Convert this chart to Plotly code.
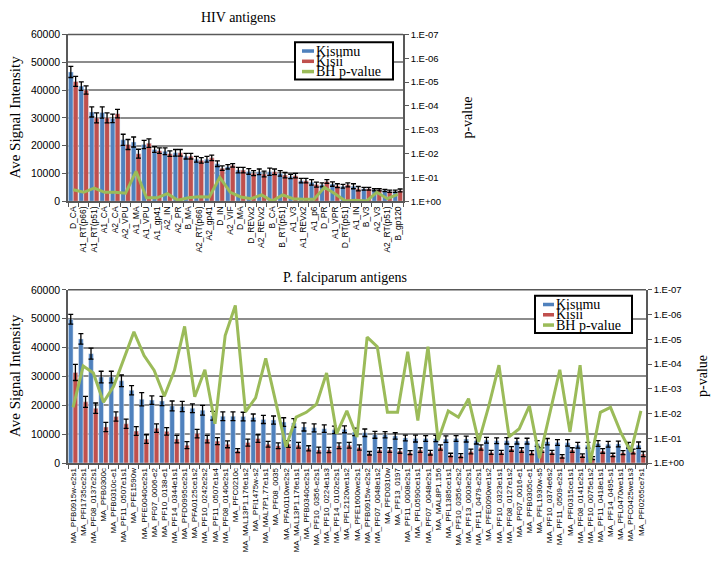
import plotly.graph_objects as go

# ---------------- HIV antigens (top) ----------------
hiv_antigens = ["D_CA", "A1_RT(p66)", "A1_RT(p51)", "A1_CA", "A2_CA", "A2_VPU", "A1_MA", "A1_VPU",
                "A1_gp41", "A2_IN", "A2_PR", "B_MA", "A2_RT(p66)", "A2_gp41", "D_IN", "A2_VIF",
                "D_MA", "D_REVx2", "A2_REVx2", "B_CA", "B_RT(p51)", "A1_V3", "A1_REVx2", "A1_p6",
                "D_PR", "A1_VPR", "D_RT(p51)", "A1_IN", "B_V3", "A2_V3", "A2_RT(p51)", "B_gp120"]
hiv_kisumu = [46500, 41400, 32100, 31900, 29800, 22100, 21300, 20400, 18600, 18000, 17400, 16200,
              15100, 15100, 13500, 12400, 11200, 10700, 10600, 10600, 10000, 8900, 7400, 6800,
              5900, 6200, 5400, 5400, 4500, 4100, 3900, 3600]
hiv_kisii = [43100, 40000, 30000, 30000, 31500, 20400, 17100, 20900, 18200, 17100, 17400, 16200,
             14700, 15600, 11900, 12900, 11200, 10100, 9800, 10600, 9400, 9200, 7400, 6000,
             7100, 5600, 5900, 4500, 4500, 4100, 3600, 3900]
hiv_kisumu_err = [2000, 1500, 1800, 2000, 1500, 2000, 1800, 1500, 1000, 1200, 1200, 1000, 1000, 1000,
                  1000, 800, 1000, 1000, 1000, 1300, 1000, 800, 800, 1000, 700, 800, 700, 900, 500,
                  400, 400, 400]
hiv_kisii_err = [1800, 1500, 1800, 1800, 1500, 1800, 1600, 1500, 1000, 1000, 1200, 1000, 1000, 1000,
                 800, 600, 1000, 900, 1000, 1000, 1000, 800, 800, 900, 700, 700, 700, 800, 500, 400,
                 400, 500]
hiv_pvalue = [0.33, 0.42, 0.28, 0.42, 0.42, 0.46, 0.056, 0.72, 0.72, 0.48, 0.91, 0.71, 0.65, 0.66,
              0.10, 0.42, 0.66, 0.78, 0.54, 0.98, 0.54, 0.78, 0.83, 0.83, 0.26, 0.48, 0.98, 0.91,
              0.98, 0.42, 0.78, 0.51]

# ---------------- P. falciparum antigens (bottom) ----------------
pf_antigens = ["MA_PFB0915w-e2s1", "MA_PFI1735ce2s1", "MA_PF08_0137e2s1", "MA_PFB0300c",
               "MA_PFB0310c-e1", "MA_PF11_0507e1s1", "MA_PFE1590w", "MA_PFE0040ce2s1",
               "MA_PF07_0006-e2", "MA_PF10_0138-e1", "MA_PF14_0344e1s1", "MA_PFD0995ce2s1",
               "MA_PFA0125ce1s2", "MA_PF10_0242e2s2", "MA_PF11_0507e1s4", "MA_PF08_0140e2s1",
               "MA_PFC0210c", "MA_MAL13P1.176e1s2", "MA_PFI1475w-s2", "MA_MAL7P1.77e1s1",
               "MA_PF08_0035", "MA_PFA0110we2s2", "MA_MAL13P1.176e1s1", "MA_PFB0340ce2s1",
               "MA_PF10_0356-e2s1", "MA_PF10_0224e1s3", "MA_PF14_0102e2s1", "MA_PFL2120we1s2",
               "MA_PFE1600we2s1", "MA_PFB0915w-e2s2", "MA_PF07_0048e1s2", "MA_PFD0310w",
               "MA_PF13_0197", "MA_PF11_0008e2s1", "MA_PFL0590ce1s1", "MA_PF07_0048e2s1",
               "MA_MAL8P1.156", "MA_PFL1385ce1s1", "MA_PF10_0356-e2s2", "MA_PF13_0003e2s1",
               "MA_PF11_0479-e2s1", "MA_PFE0090we1s2", "MA_PF10_0323e1s1", "MA_PF08_0127e1s2",
               "MA_PF07_0016-e1", "MA_PFB0305c-e1", "MA_PFL1930w-s5", "MA_PF10_0374e6s2",
               "MA_PF11_0509-e2s1", "MA_PFI0315ce1s1", "MA_PF08_0141e2s1", "MA_PF10_0075e1s2",
               "MA_PF11_0418e1s1", "MA_PF14_0495-s1", "MA_PFL0470we1s1", "MA_PFC0425we1s3",
               "MA_PFI0265ce7s1"]
pf_kisumu = [49800, 43000, 37900, 29800, 29800, 28500, 25200, 22100, 21800, 21500, 19800, 19600,
             19000, 18300, 16400, 16200, 16200, 16100, 15800, 15100, 14900, 14200, 13900, 12500,
             12200, 11900, 11500, 11700, 10800, 10500, 9800, 9800, 9400, 8700, 8500, 8500, 8500,
             8300, 8500, 8300, 7700, 7900, 7700, 7700, 7600, 7600, 6800, 7400, 7100, 7000, 6200,
             6200, 6800, 6500, 6600, 6200, 6200]
pf_kisii = [31400, 21200, 19000, 12500, 16100, 13600, 11100, 8300, 12100, 11000, 8300, 6200,
            10200, 8300, 7600, 6500, 4300, 7100, 8500, 6500, 6000, 6600, 6200, 5100, 4500, 4500,
            6000, 6200, 5400, 3400, 4500, 4500, 4200, 3600, 4500, 3600, 5400, 2800, 2600, 4000,
            5400, 3700, 3700, 4900, 4500, 3600, 4500, 3700, 2300, 4500, 2600, 1700, 4200, 2800,
            3600, 4000, 3100]
pf_kisumu_err = [1700, 1800, 1900, 2000, 2000, 2000, 1600, 2300, 1500, 1600, 1700, 1800, 1500,
                 1700, 1500, 1500, 1500, 1500, 1200, 1400, 1400, 1500, 1500, 1400, 1400, 1300,
                 1300, 1200, 1300, 1300, 1200, 1100, 1100, 1000, 1200, 1000, 1100, 1100, 1000,
                 1000, 1100, 1000, 1000, 1100, 1000, 1000, 1000, 1100, 1000, 1100, 1000, 1000,
                 1000, 1000, 1000, 1000, 1100]
pf_kisii_err = [2800, 1900, 1800, 1600, 1600, 1600, 1500, 1500, 1500, 1300, 1300, 1200, 1500, 1300,
                1200, 1200, 700, 1200, 1300, 1000, 1000, 1200, 1000, 900, 1000, 900, 1000, 1000,
                900, 600, 800, 800, 800, 700, 800, 800, 900, 600, 700, 800, 900, 700, 700, 800,
                800, 700, 800, 700, 600, 800, 600, 500, 800, 600, 700, 800, 900]
pf_pvalue = [5.6e-3, 1.2e-4, 2.3e-4, 3.5e-3, 7.9e-4, 6.3e-5, 5.0e-6, 4.5e-5, 1.8e-4, 2.0e-3,
             1.8e-4, 3.0e-6, 2.1e-3, 1.7e-4, 2.6e-2, 7.1e-6, 4.3e-7, 8.5e-3, 2.3e-3, 5.9e-5,
             4.2e-3, 2.2e-1, 1.4e-2, 8.9e-3, 4.2e-3, 2.3e-4, 6.5e-2, 7.8e-3, 8.9e-2, 8.1e-6,
             2.0e-5, 8.9e-3, 8.9e-3, 3.2e-5, 1.9e-2, 2.0e-5, 1.2e-1, 7.8e-3, 1.4e-2, 2.5e-3,
             1.4e-1, 4.9e-3, 1.1e-4, 8.7e-2, 4.1e-2, 4.9e-3, 6.3e-1, 1.0e-2, 1.7e-4, 5.6e-2,
             1.1e-4, 1.0, 8.9e-3, 5.6e-3, 5.6e-2, 3.5e-1, 7.8e-3]

left_ticks = [0, 10000, 20000, 30000, 40000, 50000, 60000]
left_tick_text = ["0", "10000", "20000", "30000", "40000", "50000", "60000"]
p_ticks = [1e-7, 1e-6, 1e-5, 1e-4, 1e-3, 1e-2, 1e-1, 1]
p_tick_text = ["1.E-07", "1.E-06", "1.E-05", "1.E-04", "1.E-03", "1.E-02", "1.E-01", "1.E+00"]
series_names = ["Kisumu", "Kisii", "BH p-value"]

BLUE = "#4F81BD"
RED = "#C0504D"
GREEN = "#9BBB59"
SANS = "Liberation Sans"
SERIF = "Liberation Serif"
W, H = 714, 564


def px_x(x):
    return x / W


def px_y(y):
    return 1 - y / H


fig = go.Figure()

err_style = dict(type="data", color="black", thickness=1.3, width=2.5)

# top traces
fig.add_trace(go.Bar(x=hiv_antigens, y=hiv_kisumu, name=series_names[0], marker_color=BLUE,
                     error_y=dict(array=hiv_kisumu_err, **err_style), xaxis="x", yaxis="y"))
fig.add_trace(go.Bar(x=hiv_antigens, y=hiv_kisii, name=series_names[1], marker_color=RED,
                     error_y=dict(array=hiv_kisii_err, **err_style), xaxis="x", yaxis="y"))
fig.add_trace(go.Scatter(x=hiv_antigens, y=hiv_pvalue, name=series_names[2], mode="lines",
                         line=dict(color=GREEN, width=3), xaxis="x", yaxis="y2"))

# bottom traces
fig.add_trace(go.Bar(x=pf_antigens, y=pf_kisumu, name=series_names[0], marker_color=BLUE,
                     error_y=dict(array=pf_kisumu_err, **err_style), xaxis="x2", yaxis="y3"))
fig.add_trace(go.Bar(x=pf_antigens, y=pf_kisii, name=series_names[1], marker_color=RED,
                     error_y=dict(array=pf_kisii_err, **err_style), xaxis="x2", yaxis="y3"))
fig.add_trace(go.Scatter(x=pf_antigens, y=pf_pvalue, name=series_names[2], mode="lines",
                         line=dict(color=GREEN, width=3), xaxis="x2", yaxis="y4"))

top_x = [px_x(68), px_x(403)]
top_y = [px_y(199.5), px_y(29)]
bot_x = [px_x(68), px_x(646)]
bot_y = [px_y(467), px_y(290)]

AX = "#595959"
GRID = "#8c8c8c"

xcommon = dict(type="category", tickangle=-90,
               showline=True, linecolor=AX, linewidth=1.5, ticks="outside", tickson="boundaries",
               ticklen=4, tickcolor=AX, showgrid=False, mirror=False, fixedrange=True)
ycommon = dict(range=[0, 60000], tickvals=left_ticks, ticktext=left_tick_text,
               tickfont=dict(family=SANS, size=10.5, color="black"),
               showgrid=True, gridcolor=GRID, gridwidth=1.5, showline=True, linecolor=AX,
               linewidth=1.5, ticks="outside", ticklen=4, tickcolor=AX, zeroline=False,
               mirror=False)
pcommon = dict(type="log", range=[0, -7], tickvals=p_ticks, ticktext=p_tick_text,
               tickfont=dict(family=SANS, size=9.5, color="black"), showgrid=False,
               showline=True, linecolor=AX, linewidth=1.5, ticks="outside", ticklen=4,
               tickcolor=AX, side="right", zeroline=False)

fig.update_layout(
    width=W, height=H, autosize=False,
    margin=dict(l=0, r=0, t=0, b=0),
    paper_bgcolor="white", plot_bgcolor="white",
    barmode="group", bargap=0.08, bargroupgap=0.0,
    xaxis=dict(domain=top_x, anchor="y", tickfont=dict(family=SANS, size=8.5, color="black"),
               **xcommon),
    yaxis=dict(domain=top_y, anchor="x", **ycommon),
    yaxis2=dict(overlaying="y", anchor="x", **pcommon),
    xaxis2=dict(domain=bot_x, anchor="y3", tickfont=dict(family=SANS, size=8, color="black"),
                **xcommon),
    yaxis3=dict(domain=bot_y, anchor="x2", **ycommon),
    yaxis4=dict(overlaying="y3", anchor="x2", **pcommon),
    showlegend=False,
)

shapes = []
# frame line on top of plot areas
for xd, yd in [(top_x, top_y), (bot_x, bot_y)]:
    shapes.append(dict(type="line", xref="paper", yref="paper", x0=xd[0], x1=xd[1], y0=yd[1],
                       y1=yd[1], line=dict(color=AX, width=1.5)))

annotations = [
    dict(text="HIV antigens", x=px_x(239), y=px_y(12), font=dict(family=SERIF, size=14)),
    dict(text="P. falciparum antigens", x=px_x(345), y=px_y(277), font=dict(family=SERIF, size=14)),
    dict(text="Ave Signal Intensity", x=px_x(15), y=px_y(114), textangle=-90,
         font=dict(family=SERIF, size=15)),
    dict(text="Ave Signal Intensity", x=px_x(15), y=px_y(378), textangle=-90,
         font=dict(family=SERIF, size=15)),
    dict(text="p-value", x=px_x(468), y=px_y(114), textangle=-90, font=dict(family=SERIF, size=14)),
    dict(text="p-value", x=px_x(703), y=px_y(378), textangle=-90, font=dict(family=SERIF, size=14)),
]


# legend boxes (series swatches + names)
def add_legend(x0, y0, x1, y1, sw_x0, sw_x1, text_x, rows):
    shapes.append(dict(type="rect", xref="paper", yref="paper", x0=px_x(x0), x1=px_x(x1),
                       y0=px_y(y1), y1=px_y(y0), line=dict(color="black", width=2),
                       fillcolor="white", layer="above"))
    for (name, color), ry in zip(zip(series_names, [BLUE, RED, GREEN]), rows):
        shapes.append(dict(type="rect", xref="paper", yref="paper", x0=px_x(sw_x0), x1=px_x(sw_x1),
                           y0=px_y(ry + 1.8), y1=px_y(ry - 1.8), line=dict(width=0),
                           fillcolor=color, layer="above"))
        annotations.append(dict(text=name, x=px_x(text_x), y=px_y(ry), xanchor="left",
                                font=dict(family=SERIF, size=14)))


add_legend(295, 37, 393, 75, 302, 314, 314, [46, 56.5, 67])
add_legend(535, 296, 632, 334, 543, 554, 554, [305, 315.5, 326])

for a in annotations:
    a.update(xref="paper", yref="paper", showarrow=False, yanchor="middle")
    a.setdefault("xanchor", "center")
    a["font"]["color"] = "black"
fig.update_layout(annotations=annotations, shapes=shapes)

fig.write_html("out.html", config={"displayModeBar": False},
               post_script="document.body.style.margin='0px';")
